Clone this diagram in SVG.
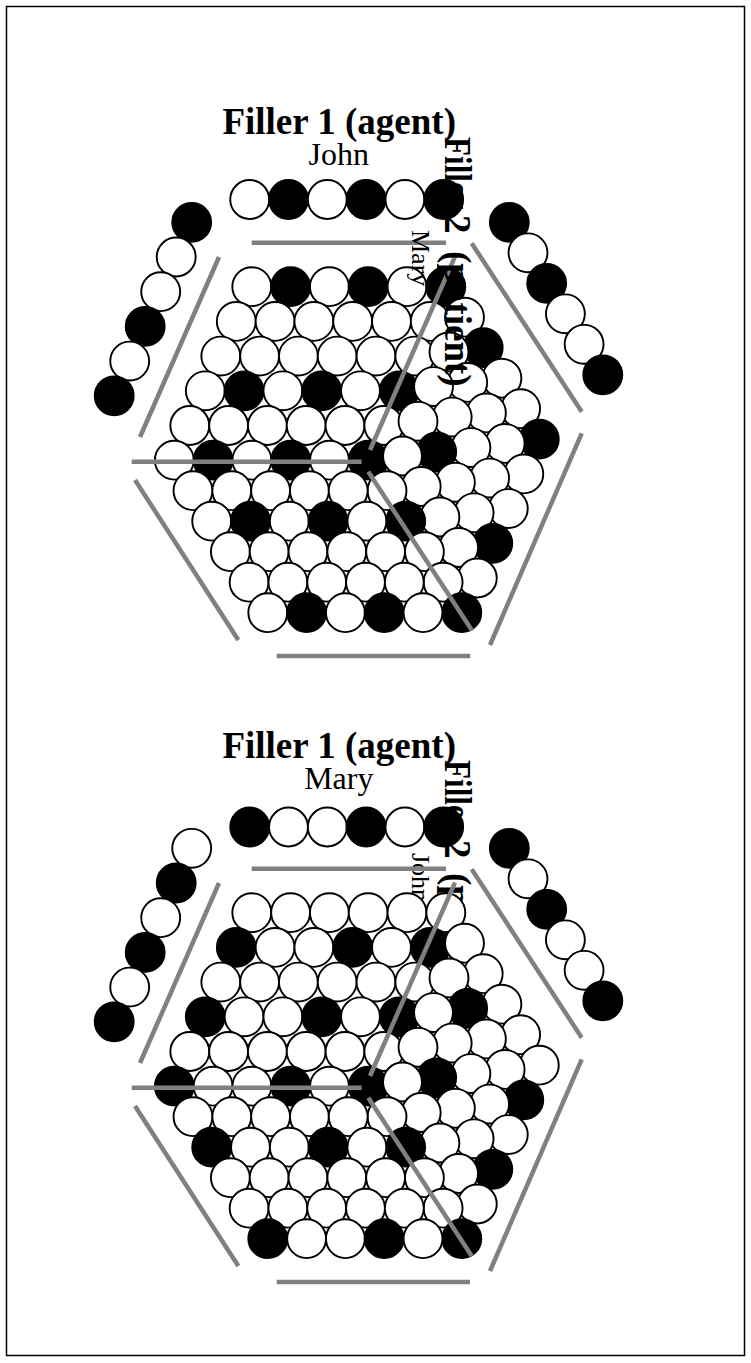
<svg xmlns="http://www.w3.org/2000/svg" width="751" height="1363" viewBox="0 0 751 1363">
<style>
.w{fill:#fff;stroke:#000;stroke-width:1.9}
.k{fill:#000;stroke:#000;stroke-width:1.9}
.ln{stroke:#808080;stroke-width:4.5;fill:none}
.tb{font-family:"Liberation Serif",serif;font-weight:bold;font-size:37px;fill:#000}
.tr{font-family:"Liberation Serif",serif;font-size:32px;fill:#000}
.tv{font-family:"Liberation Serif",serif;font-size:26px;fill:#000}
</style>
<rect x="6.5" y="6.5" width="738" height="1349" fill="#fff" stroke="#000" stroke-width="1.5"/>

<g id="cube1">
<g id="vectors1">
<circle class="w" cx="249.7" cy="199.5" r="19.45"/><circle class="k" cx="288.5" cy="199.5" r="19.45"/><circle class="w" cx="327.3" cy="199.5" r="19.45"/><circle class="k" cx="366.1" cy="199.5" r="19.45"/><circle class="w" cx="404.9" cy="199.5" r="19.45"/><circle class="k" cx="443.7" cy="199.5" r="19.45"/>
<circle class="k" cx="191.7" cy="222.3" r="19.45"/><circle class="w" cx="176.2" cy="257" r="19.45"/><circle class="w" cx="160.7" cy="291.7" r="19.45"/><circle class="k" cx="145.2" cy="326.4" r="19.45"/><circle class="w" cx="129.7" cy="361.1" r="19.45"/><circle class="k" cx="114.2" cy="395.8" r="19.45"/>
<circle class="k" cx="509.3" cy="222.3" r="19.45"/><circle class="w" cx="528" cy="252.8" r="19.45"/><circle class="k" cx="546.7" cy="283.3" r="19.45"/><circle class="w" cx="565.4" cy="313.8" r="19.45"/><circle class="w" cx="584.1" cy="344.3" r="19.45"/><circle class="k" cx="602.8" cy="374.8" r="19.45"/>
</g>
<g id="tensor1" transform="translate(368.3,460.2)">
<g id="faceA1">
<g transform="translate(77.5,-173.5)"><circle class="w" cx="-194" r="19.45"/><circle class="k" cx="-155.2" r="19.45"/><circle class="w" cx="-116.4" r="19.45"/><circle class="k" cx="-77.6" r="19.45"/><circle class="w" cx="-38.8" r="19.45"/><circle class="k" cx="0" r="19.45"/></g>
<g transform="translate(62,-138.8)"><circle class="w" cx="-194" r="19.45"/><circle class="w" cx="-155.2" r="19.45"/><circle class="w" cx="-116.4" r="19.45"/><circle class="w" cx="-77.6" r="19.45"/><circle class="w" cx="-38.8" r="19.45"/><circle class="w" cx="0" r="19.45"/></g>
<g transform="translate(46.5,-104.1)"><circle class="w" cx="-194" r="19.45"/><circle class="w" cx="-155.2" r="19.45"/><circle class="w" cx="-116.4" r="19.45"/><circle class="w" cx="-77.6" r="19.45"/><circle class="w" cx="-38.8" r="19.45"/><circle class="w" cx="0" r="19.45"/></g>
<g transform="translate(31,-69.4)"><circle class="w" cx="-194" r="19.45"/><circle class="k" cx="-155.2" r="19.45"/><circle class="w" cx="-116.4" r="19.45"/><circle class="k" cx="-77.6" r="19.45"/><circle class="w" cx="-38.8" r="19.45"/><circle class="k" cx="0" r="19.45"/></g>
<g transform="translate(15.5,-34.7)"><circle class="w" cx="-194" r="19.45"/><circle class="w" cx="-155.2" r="19.45"/><circle class="w" cx="-116.4" r="19.45"/><circle class="w" cx="-77.6" r="19.45"/><circle class="w" cx="-38.8" r="19.45"/><circle class="w" cx="0" r="19.45"/></g>
<g><circle class="w" cx="-194" r="19.45"/><circle class="k" cx="-155.2" r="19.45"/><circle class="w" cx="-116.4" r="19.45"/><circle class="k" cx="-77.6" r="19.45"/><circle class="w" cx="-38.8" r="19.45"/><circle class="k" cx="0" r="19.45"/></g>
</g>
<g id="faceB1">
<g transform="translate(77.5,-173.5)"><circle class="w" cx="18.7" cy="30.5" r="19.45"/><circle class="k" cx="37.4" cy="61" r="19.45"/><circle class="w" cx="56.1" cy="91.5" r="19.45"/><circle class="w" cx="74.8" cy="122" r="19.45"/><circle class="k" cx="93.5" cy="152.5" r="19.45"/></g>
<g transform="translate(62,-138.8)"><circle class="w" cx="18.7" cy="30.5" r="19.45"/><circle class="w" cx="37.4" cy="61" r="19.45"/><circle class="w" cx="56.1" cy="91.5" r="19.45"/><circle class="w" cx="74.8" cy="122" r="19.45"/><circle class="w" cx="93.5" cy="152.5" r="19.45"/></g>
<g transform="translate(46.5,-104.1)"><circle class="w" cx="18.7" cy="30.5" r="19.45"/><circle class="w" cx="37.4" cy="61" r="19.45"/><circle class="w" cx="56.1" cy="91.5" r="19.45"/><circle class="w" cx="74.8" cy="122" r="19.45"/><circle class="w" cx="93.5" cy="152.5" r="19.45"/></g>
<g transform="translate(31,-69.4)"><circle class="w" cx="18.7" cy="30.5" r="19.45"/><circle class="k" cx="37.4" cy="61" r="19.45"/><circle class="w" cx="56.1" cy="91.5" r="19.45"/><circle class="w" cx="74.8" cy="122" r="19.45"/><circle class="k" cx="93.5" cy="152.5" r="19.45"/></g>
<g transform="translate(15.5,-34.7)"><circle class="w" cx="18.7" cy="30.5" r="19.45"/><circle class="w" cx="37.4" cy="61" r="19.45"/><circle class="w" cx="56.1" cy="91.5" r="19.45"/><circle class="w" cx="74.8" cy="122" r="19.45"/><circle class="w" cx="93.5" cy="152.5" r="19.45"/></g>
<g><circle class="w" cx="18.7" cy="30.5" r="19.45"/><circle class="k" cx="37.4" cy="61" r="19.45"/><circle class="w" cx="56.1" cy="91.5" r="19.45"/><circle class="w" cx="74.8" cy="122" r="19.45"/><circle class="k" cx="93.5" cy="152.5" r="19.45"/></g>
</g>
<g id="faceC1">
<g transform="translate(18.7,30.5)"><circle class="w" cx="-194" r="19.45"/><circle class="w" cx="-155.2" r="19.45"/><circle class="w" cx="-116.4" r="19.45"/><circle class="w" cx="-77.6" r="19.45"/><circle class="w" cx="-38.8" r="19.45"/></g>
<g transform="translate(37.4,61)"><circle class="w" cx="-194" r="19.45"/><circle class="k" cx="-155.2" r="19.45"/><circle class="w" cx="-116.4" r="19.45"/><circle class="k" cx="-77.6" r="19.45"/><circle class="w" cx="-38.8" r="19.45"/></g>
<g transform="translate(56.1,91.5)"><circle class="w" cx="-194" r="19.45"/><circle class="w" cx="-155.2" r="19.45"/><circle class="w" cx="-116.4" r="19.45"/><circle class="w" cx="-77.6" r="19.45"/><circle class="w" cx="-38.8" r="19.45"/></g>
<g transform="translate(74.8,122)"><circle class="w" cx="-194" r="19.45"/><circle class="w" cx="-155.2" r="19.45"/><circle class="w" cx="-116.4" r="19.45"/><circle class="w" cx="-77.6" r="19.45"/><circle class="w" cx="-38.8" r="19.45"/></g>
<g transform="translate(93.5,152.5)"><circle class="w" cx="-194" r="19.45"/><circle class="k" cx="-155.2" r="19.45"/><circle class="w" cx="-116.4" r="19.45"/><circle class="k" cx="-77.6" r="19.45"/><circle class="w" cx="-38.8" r="19.45"/></g>
</g>
</g>
<g id="lines1" class="ln">
<line x1="131.7" y1="461.7" x2="361.7" y2="461.7"/>
<line x1="370" y1="450" x2="455" y2="256.7"/>
<line x1="368.3" y1="471.7" x2="471.7" y2="630"/>
<line x1="251.7" y1="242.7" x2="446" y2="242.7"/>
<line x1="219" y1="257" x2="140" y2="437"/>
<line x1="135" y1="480" x2="238.3" y2="640"/>
<line x1="276.7" y1="656" x2="470" y2="656"/>
<line x1="581.7" y1="433.3" x2="490" y2="645"/>
<line x1="471.7" y1="243.3" x2="581.7" y2="411.7"/>
</g>
<g id="labels1">
<text class="tb" x="339.2" y="133.5" text-anchor="middle">Filler 1 (agent)</text>
<text class="tr" x="338.8" y="165" text-anchor="middle">John</text>
<text class="tb" transform="translate(445,137) rotate(90)"><tspan textLength="72" lengthAdjust="spacingAndGlyphs">Filler</tspan> <tspan x="78">2</tspan> <tspan x="114">(patient)</tspan></text>
<text class="tv" transform="translate(412,230) rotate(90)">Mary</text>
</g>
</g>

<g id="cube2">
<g id="labels2">
<text class="tb" x="339.2" y="757.5" text-anchor="middle">Filler 1 (agent)</text>
<text class="tr" x="338.8" y="789" text-anchor="middle">Mary</text>
<text class="tb" transform="translate(445,760) rotate(90)"><tspan textLength="72" lengthAdjust="spacingAndGlyphs">Filler</tspan> <tspan x="80">2</tspan> <tspan x="113">(patient)</tspan></text>
<text class="tv" transform="translate(412,853) rotate(90)">John</text>
</g>
<g id="vectors2">
<circle class="k" cx="249.7" cy="827" r="19.45"/><circle class="w" cx="288.5" cy="827" r="19.45"/><circle class="w" cx="327.3" cy="827" r="19.45"/><circle class="k" cx="366.1" cy="827" r="19.45"/><circle class="w" cx="404.9" cy="827" r="19.45"/><circle class="k" cx="443.7" cy="827" r="19.45"/>
<circle class="w" cx="191.7" cy="848.3" r="19.45"/><circle class="k" cx="176.2" cy="883" r="19.45"/><circle class="w" cx="160.7" cy="917.7" r="19.45"/><circle class="k" cx="145.2" cy="952.4" r="19.45"/><circle class="w" cx="129.7" cy="987.1" r="19.45"/><circle class="k" cx="114.2" cy="1021.8" r="19.45"/>
<circle class="k" cx="509.3" cy="848.3" r="19.45"/><circle class="w" cx="528" cy="878.8" r="19.45"/><circle class="k" cx="546.7" cy="909.3" r="19.45"/><circle class="w" cx="565.4" cy="939.8" r="19.45"/><circle class="w" cx="584.1" cy="970.3" r="19.45"/><circle class="k" cx="602.8" cy="1000.8" r="19.45"/>
</g>
<g id="tensor2" transform="translate(368.3,1086.2)">
<g id="faceA2">
<g transform="translate(77.5,-173.5)"><circle class="w" cx="-194" r="19.45"/><circle class="w" cx="-155.2" r="19.45"/><circle class="w" cx="-116.4" r="19.45"/><circle class="w" cx="-77.6" r="19.45"/><circle class="w" cx="-38.8" r="19.45"/><circle class="w" cx="0" r="19.45"/></g>
<g transform="translate(62,-138.8)"><circle class="k" cx="-194" r="19.45"/><circle class="w" cx="-155.2" r="19.45"/><circle class="w" cx="-116.4" r="19.45"/><circle class="k" cx="-77.6" r="19.45"/><circle class="w" cx="-38.8" r="19.45"/><circle class="k" cx="0" r="19.45"/></g>
<g transform="translate(46.5,-104.1)"><circle class="w" cx="-194" r="19.45"/><circle class="w" cx="-155.2" r="19.45"/><circle class="w" cx="-116.4" r="19.45"/><circle class="w" cx="-77.6" r="19.45"/><circle class="w" cx="-38.8" r="19.45"/><circle class="w" cx="0" r="19.45"/></g>
<g transform="translate(31,-69.4)"><circle class="k" cx="-194" r="19.45"/><circle class="w" cx="-155.2" r="19.45"/><circle class="w" cx="-116.4" r="19.45"/><circle class="k" cx="-77.6" r="19.45"/><circle class="w" cx="-38.8" r="19.45"/><circle class="k" cx="0" r="19.45"/></g>
<g transform="translate(15.5,-34.7)"><circle class="w" cx="-194" r="19.45"/><circle class="w" cx="-155.2" r="19.45"/><circle class="w" cx="-116.4" r="19.45"/><circle class="w" cx="-77.6" r="19.45"/><circle class="w" cx="-38.8" r="19.45"/><circle class="w" cx="0" r="19.45"/></g>
<g><circle class="k" cx="-194" r="19.45"/><circle class="w" cx="-155.2" r="19.45"/><circle class="w" cx="-116.4" r="19.45"/><circle class="k" cx="-77.6" r="19.45"/><circle class="w" cx="-38.8" r="19.45"/><circle class="k" cx="0" r="19.45"/></g>
</g>
<g id="faceB2">
<g transform="translate(77.5,-173.5)"><circle class="w" cx="18.7" cy="30.5" r="19.45"/><circle class="w" cx="37.4" cy="61" r="19.45"/><circle class="w" cx="56.1" cy="91.5" r="19.45"/><circle class="w" cx="74.8" cy="122" r="19.45"/><circle class="w" cx="93.5" cy="152.5" r="19.45"/></g>
<g transform="translate(62,-138.8)"><circle class="w" cx="18.7" cy="30.5" r="19.45"/><circle class="k" cx="37.4" cy="61" r="19.45"/><circle class="w" cx="56.1" cy="91.5" r="19.45"/><circle class="w" cx="74.8" cy="122" r="19.45"/><circle class="k" cx="93.5" cy="152.5" r="19.45"/></g>
<g transform="translate(46.5,-104.1)"><circle class="w" cx="18.7" cy="30.5" r="19.45"/><circle class="w" cx="37.4" cy="61" r="19.45"/><circle class="w" cx="56.1" cy="91.5" r="19.45"/><circle class="w" cx="74.8" cy="122" r="19.45"/><circle class="w" cx="93.5" cy="152.5" r="19.45"/></g>
<g transform="translate(31,-69.4)"><circle class="w" cx="18.7" cy="30.5" r="19.45"/><circle class="k" cx="37.4" cy="61" r="19.45"/><circle class="w" cx="56.1" cy="91.5" r="19.45"/><circle class="w" cx="74.8" cy="122" r="19.45"/><circle class="k" cx="93.5" cy="152.5" r="19.45"/></g>
<g transform="translate(15.5,-34.7)"><circle class="w" cx="18.7" cy="30.5" r="19.45"/><circle class="w" cx="37.4" cy="61" r="19.45"/><circle class="w" cx="56.1" cy="91.5" r="19.45"/><circle class="w" cx="74.8" cy="122" r="19.45"/><circle class="w" cx="93.5" cy="152.5" r="19.45"/></g>
<g><circle class="w" cx="18.7" cy="30.5" r="19.45"/><circle class="k" cx="37.4" cy="61" r="19.45"/><circle class="w" cx="56.1" cy="91.5" r="19.45"/><circle class="w" cx="74.8" cy="122" r="19.45"/><circle class="k" cx="93.5" cy="152.5" r="19.45"/></g>
</g>
<g id="faceC2">
<g transform="translate(18.7,30.5)"><circle class="w" cx="-194" r="19.45"/><circle class="w" cx="-155.2" r="19.45"/><circle class="w" cx="-116.4" r="19.45"/><circle class="w" cx="-77.6" r="19.45"/><circle class="w" cx="-38.8" r="19.45"/></g>
<g transform="translate(37.4,61)"><circle class="k" cx="-194" r="19.45"/><circle class="w" cx="-155.2" r="19.45"/><circle class="w" cx="-116.4" r="19.45"/><circle class="k" cx="-77.6" r="19.45"/><circle class="w" cx="-38.8" r="19.45"/></g>
<g transform="translate(56.1,91.5)"><circle class="w" cx="-194" r="19.45"/><circle class="w" cx="-155.2" r="19.45"/><circle class="w" cx="-116.4" r="19.45"/><circle class="w" cx="-77.6" r="19.45"/><circle class="w" cx="-38.8" r="19.45"/></g>
<g transform="translate(74.8,122)"><circle class="w" cx="-194" r="19.45"/><circle class="w" cx="-155.2" r="19.45"/><circle class="w" cx="-116.4" r="19.45"/><circle class="w" cx="-77.6" r="19.45"/><circle class="w" cx="-38.8" r="19.45"/></g>
<g transform="translate(93.5,152.5)"><circle class="k" cx="-194" r="19.45"/><circle class="w" cx="-155.2" r="19.45"/><circle class="w" cx="-116.4" r="19.45"/><circle class="k" cx="-77.6" r="19.45"/><circle class="w" cx="-38.8" r="19.45"/></g>
</g>
</g>
<g id="lines2" class="ln">
<line x1="131.7" y1="1087.7" x2="361.7" y2="1087.7"/>
<line x1="370" y1="1076" x2="455" y2="882.7"/>
<line x1="368.3" y1="1097.7" x2="471.7" y2="1256"/>
<line x1="251.7" y1="868.7" x2="446" y2="868.7"/>
<line x1="219" y1="883" x2="140" y2="1063"/>
<line x1="135" y1="1106" x2="238.3" y2="1266"/>
<line x1="276.7" y1="1282" x2="470" y2="1282"/>
<line x1="581.7" y1="1059.3" x2="490" y2="1271"/>
<line x1="471.7" y1="869.3" x2="581.7" y2="1037.7"/>
</g>
</g>
</svg>
